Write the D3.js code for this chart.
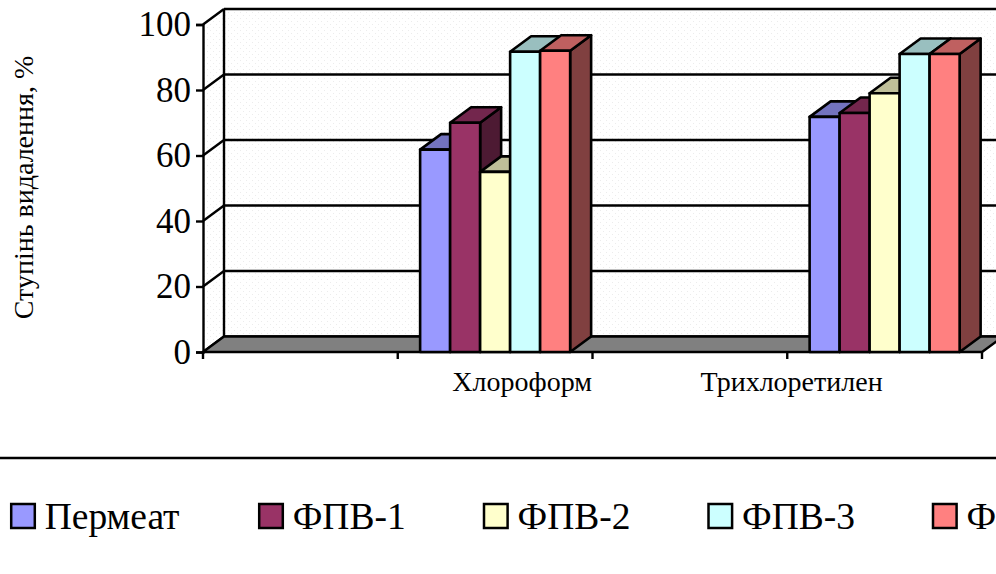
<!DOCTYPE html>
<html>
<head>
<meta charset="utf-8">
<script src="https://cdn.jsdelivr.net/npm/d3@7"></script>
<style>
  html, body { margin: 0; padding: 0; background: #fff; overflow: hidden; }
  svg { display: block; }
  text { font-family: "Liberation Serif", serif; fill: #000; }
</style>
</head>
<body>
<div id="chart"></div>
<script>
const categories = ["slot1", "Хлороформ", "slot3", "Трихлоретилен"];
const categoryLabels = ["", "Хлороформ", "", "Трихлоретилен"];
const seriesNames = ["Пермеат", "ФПВ-1", "ФПВ-2", "ФПВ-3", "ФПВ-4"];
const seriesColors = ["#9999ff", "#993366", "#ffffcc", "#ccffff", "#ff8080"];
const permeat = [null, 61.8, null, 71.8];
const fpv1 = [null, 70, null, 73];
const fpv2 = [null, 55, null, 79];
const fpv3 = [null, 91.7, null, 91];
const fpv4 = [null, 92, null, 91];
const allSeries = [permeat, fpv1, fpv2, fpv3, fpv4];
const yTicks = [0, 20, 40, 60, 80, 100];

const width = 996, height = 574;
const svg = d3.select("#chart").append("svg").attr("width", width).attr("height", height);

// Oblique projection of the 3D box: the back wall sits up and to the right of the front plane.
const depthX = 21, depthY = -15.5;
const x = d3.scaleBand().domain(categories).range([203, 982]);
const y = d3.scaleLinear().domain([0, 100]).range([352, 24.5]);
const barBand = d3.scaleBand().domain(seriesNames).range([0, 150]);
const groupInset = (x.bandwidth() - 150) / 2;

const ink = "#000";
const poly = pts => pts.map(p => p.join(",")).join(" ");
const scaled = (c, k) => {
  const rgb = d3.rgb(c);
  return d3.rgb(rgb.r * k, rgb.g * k, rgb.b * k).formatHex();
};

// Fine dotted fill of the walls
const pattern = svg.append("defs").append("pattern").attr("id", "wallDots")
  .attr("width", 6).attr("height", 6).attr("patternUnits", "userSpaceOnUse");
pattern.append("rect").attr("width", 6).attr("height", 6).attr("fill", "#fff");
pattern.append("rect").attr("x", 0).attr("y", 0).attr("width", 1).attr("height", 1).attr("fill", "#ececec");
pattern.append("rect").attr("x", 3).attr("y", 3).attr("width", 1).attr("height", 1).attr("fill", "#ececec");

const x0 = x.range()[0], x1 = x.range()[1];
const y0 = y(0), yTop = y(100);

// Back wall and side wall
svg.append("rect").attr("x", x0 + depthX).attr("y", yTop + depthY)
  .attr("width", x1 - x0).attr("height", y0 - yTop).attr("fill", "url(#wallDots)");
svg.append("polygon")
  .attr("points", poly([[x0, y0], [x0 + depthX, y0 + depthY], [x0 + depthX, yTop + depthY], [x0, yTop]]))
  .attr("fill", "url(#wallDots)");

// Gridlines run along the back wall and step down the side wall
const grid = svg.append("g").attr("fill", "none").attr("stroke", ink).attr("stroke-width", 2.4);
yTicks.forEach(t => {
  grid.append("line").attr("x1", x0 + depthX).attr("x2", x1 + depthX)
    .attr("y1", y(t) + depthY).attr("y2", y(t) + depthY);
  grid.append("line").attr("x1", x0).attr("x2", x0 + depthX)
    .attr("y1", y(t)).attr("y2", y(t) + depthY);
});
grid.append("line").attr("x1", x0 + depthX).attr("x2", x0 + depthX)
  .attr("y1", y0 + depthY).attr("y2", yTop + depthY);

// Floor
svg.append("polygon")
  .attr("points", poly([[x0, y0], [x1, y0], [x1 + depthX, y0 + depthY], [x0 + depthX, y0 + depthY]]))
  .attr("fill", "#808080").attr("stroke", ink).attr("stroke-width", 2.4);

// Axes on the front plane
const yAxis = d3.axisLeft(y).tickValues(yTicks).tickSize(7).tickPadding(5);
const yG = svg.append("g").attr("transform", `translate(${x0},0)`).call(yAxis);
yG.selectAll("path, line").attr("stroke", ink).attr("stroke-width", 2.4);
yG.selectAll("text").attr("font-family", "Liberation Serif").attr("font-size", 35);

const xTicks = d3.range(categories.length + 1).map(i => x0 + i * x.step());
svg.append("g").selectAll("line").data(xTicks).join("line")
  .attr("x1", d => d).attr("x2", d => d).attr("y1", y0).attr("y2", y0 + 7)
  .attr("stroke", ink).attr("stroke-width", 2.4);

// Category captions sit off the band centres
const captionShift = [0, 27, 0, -93];
svg.append("g").selectAll("text").data(categories).join("text")
  .attr("x", (d, i) => x(d) + x.bandwidth() / 2 + captionShift[i])
  .attr("y", 391)
  .attr("text-anchor", "middle")
  .attr("font-size", 28)
  .text((d, i) => categoryLabels[i]);

// Axis title
svg.append("text")
  .attr("transform", "translate(33,187.5) rotate(-90)")
  .attr("text-anchor", "middle")
  .attr("font-size", 28)
  .text("Ступінь видалення, %");

// Bars are painted left to right: each front face covers its left neighbour's side face
const bars = svg.append("g").attr("stroke", ink).attr("stroke-width", 2.6).attr("stroke-linejoin", "round");
categories.forEach((cat, ci) => {
  seriesNames.forEach((name, si) => {
    const v = allSeries[si][ci];
    if (v == null) return;
    const color = seriesColors[si];
    const left = x(cat) + groupInset + barBand(name);
    const right = left + barBand.bandwidth();
    const top = y(v);
    bars.append("polygon")
      .attr("points", poly([[right, y0], [right + depthX, y0 + depthY], [right + depthX, top + depthY], [right, top]]))
      .attr("fill", scaled(color, 0.5));
    bars.append("polygon")
      .attr("points", poly([[left, top], [right, top], [right + depthX, top + depthY], [left + depthX, top + depthY]]))
      .attr("fill", scaled(color, 0.75));
    bars.append("rect")
      .attr("x", left).attr("y", top)
      .attr("width", right - left).attr("height", y0 - top)
      .attr("fill", color);
  });
});

// Legend
svg.append("line").attr("x1", 0).attr("x2", width).attr("y1", 458).attr("y2", 458)
  .attr("stroke", ink).attr("stroke-width", 2.4);
const legendX = [11.2, 259.2, 484, 708.5, 933];
const legend = svg.append("g");
seriesNames.forEach((name, i) => {
  legend.append("rect").attr("x", legendX[i]).attr("y", 504)
    .attr("width", 23.6).attr("height", 24)
    .attr("fill", seriesColors[i]).attr("stroke", ink).attr("stroke-width", 2.5);
  legend.append("text").attr("x", legendX[i] + 33.5).attr("y", 528.5)
    .attr("font-size", 37.5).text(name);
});
</script>
</body>
</html>
